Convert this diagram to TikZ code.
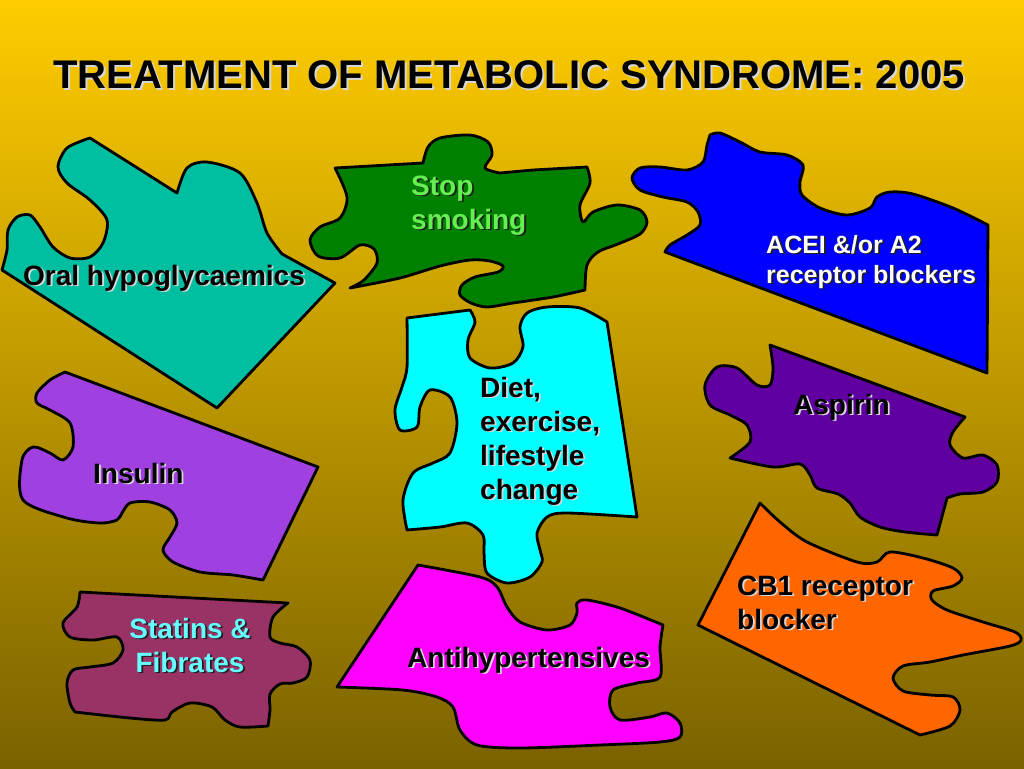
\documentclass[tikz,border=0pt]{standalone}
\usepackage{fontspec}
\setmainfont{Liberation Sans}
\usetikzlibrary{calc}
\definecolor{bgtop}{RGB}{255,204,0}
\definecolor{bgbot}{RGB}{122,98,0}
\definecolor{cteal}{RGB}{0,190,160}
\definecolor{cgreen}{RGB}{0,128,0}
\definecolor{cblue}{RGB}{0,0,255}
\definecolor{cviolet}{RGB}{160,64,224}
\definecolor{ccyan}{RGB}{0,255,255}
\definecolor{cpurple}{RGB}{96,0,160}
\definecolor{corange}{RGB}{255,102,0}
\definecolor{cmaroon}{RGB}{153,51,102}
\definecolor{cmagenta}{RGB}{255,0,255}
\definecolor{tgreen}{RGB}{100,240,80}
\definecolor{tcyan}{RGB}{102,255,255}
\definecolor{lshadow}{RGB}{215,215,215}
\definecolor{dshadow}{RGB}{30,30,30}
\newcommand{\shlabel}[7][]{%
  \node[lbl,#1,anchor=#4,text=#6] (#2s) at ($(#3)+(1.8,1.8)$) {#7};
  \node[lbl,#1,anchor=#4,text=#5] (#2) at (#3) {#7};}
\begin{document}
\begin{tikzpicture}[x=1pt,y=-1pt,
  piece/.style={draw=black,line width=2.8pt,line join=round},
  lbl/.style={inner sep=0pt,align=left,font=\fontsize{28}{34}\selectfont\bfseries},
  ttl/.style={inner sep=0pt,font=\fontsize{40}{44}\selectfont\bfseries}]
\useasboundingbox (0,0) rectangle (1024,768);
\shade[top color=bgtop,bottom color=bgbot] (0,0) rectangle (1024,768);

% Oral hypoglycaemics (teal)
\filldraw[piece,fill=cteal] (90,138) -- (177,193)
  -- plot[smooth] coordinates {(177,193) (187,168) (207,162) (240,173) (257,203) (267,233) (282,254)}
  -- (335,283) -- (217,408) -- (2,270)
  -- plot[smooth] coordinates {(2,270) (7,250) (8,230) (17,217) (30,215) (40,227) (53,247) (70,258) (90,257) (103,243) (107,220) (90,200) (67,183) (58,167) (67,148) (90,138)}
  -- cycle;

% Stop smoking (green)
\filldraw[piece,fill=cgreen] (335,168) -- (423,163)
  -- plot[smooth] coordinates {(423,163) (428,147) (440,138) (470,135) (488,142) (492,155) (485,168) (500,173)}
  -- (533,170) -- (587,167)
  -- plot[smooth] coordinates {(587,167) (590,183) (580,205) (583,222) (593,212) (617,205) (640,210) (647,222) (640,234) (618,244) (598,252) (587,265) (585,290)}
  -- plot[smooth] coordinates {(585,290) (553,297) (513,303) (487,307) (471,303) (460,295) (462,285) (475,277) (498,272) (503,266) (490,261) (470,260) (440,266) (400,278) (350,288)}
  -- plot[smooth] coordinates {(350,288) (364,280) (377,263) (374,249) (360,245) (340,258) (318,256) (310,240) (320,227) (340,218) (347,197) (335,168)}
  -- cycle;

% ACEI (blue)
\filldraw[piece,fill=cblue] (710,135)
  -- plot[smooth] coordinates {(710,135) (720,133) (740,142) (760,152) (787,155) (803,165) (800,182) (802,195) (820,208) (847,215) (870,208) (877,197) (890,192) (913,194) (953,208) (988,225)}
  -- (987,373) -- (665,252)
  -- plot[smooth] coordinates {(665,252) (670,245) (687,235) (700,225) (698,212) (687,202) (663,197) (640,190) (632,178) (640,168) (660,167) (687,170) (703,162) (707,145) (710,135)}
  -- cycle;

% Insulin (violet)
\filldraw[piece,fill=cviolet] (65,372) -- (318,467) -- (263,580)
  -- plot[smooth] coordinates {(263,580) (233,575) (200,572) (173,562) (163,550) (170,537) (177,523) (170,510) (150,502) (130,503) (122,513) (117,520) (100,523) (67,518) (23,500) (22,460) (33,447) (50,453) (63,460) (73,447) (70,423) (50,410) (37,403) (37,393) (50,380) (65,372)}
  -- cycle;

% Diet (cyan)
\filldraw[piece,fill=ccyan] (407,318) -- (470,310)
  -- plot[smooth] coordinates {(470,310) (475,322) (468,340) (470,358) (490,368) (513,363) (523,347) (520,327) (527,313) (547,307) (580,308) (607,322)}
  -- (637,517)
  -- plot[smooth] coordinates {(637,517) (567,513) (547,517) (537,533) (540,550) (542,562) (530,577) (507,583) (487,573) (484,553) (483,535) (467,523) (440,527) (407,530)}
  -- plot[smooth] coordinates {(407,530) (403,500) (413,473) (433,463) (450,453) (457,423) (450,397) (430,390) (420,407) (417,427) (400,430) (395,410) (402,387) (407,367) (407,318)}
  -- cycle;

% Aspirin (purple)
\filldraw[piece,fill=cpurple] (770,345) -- (965,417)
  -- plot[smooth] coordinates {(965,417) (953,432) (950,445) (963,458) (983,455) (997,465) (997,482) (983,492) (960,494) (947,498)}
  -- (937,535)
  -- plot[smooth] coordinates {(937,535) (905,532) (880,527) (860,517) (850,503) (838,494) (817,488) (810,475) (800,464) (773,467) (730,458)}
  -- plot[smooth] coordinates {(730,458) (750,442) (747,425) (730,415) (710,405) (705,385) (717,367) (737,368) (757,385) (770,385) (773,368) (770,345)}
  -- cycle;

% CB1 (orange)
\filldraw[piece,fill=corange] (760,503)
  -- plot[smooth] coordinates {(760,503) (780,522) (807,542) (857,562) (877,562) (890,552) (923,558) (953,568) (962,578) (953,586) (933,591) (932,600) (947,610) (983,622) (1015,632) (1021,640) (1010,646) (963,655) (930,662) (903,666) (893,678) (903,691) (930,695) (953,697) (960,710) (950,726) (920,735)}
  -- (698,625) -- cycle;

% Statins (maroon)
\filldraw[piece,fill=cmaroon] (80,592) -- (288,603)
  -- plot[smooth] coordinates {(288,603) (273,617) (270,637) (280,643) (297,647) (310,660) (307,677) (293,683) (280,684) (270,694) (270,710) (268,726)}
  -- plot[smooth] coordinates {(268,726) (240,727) (225,720) (212,707) (190,703) (172,712) (165,720) (130,718) (75,712)}
  -- plot[smooth] coordinates {(75,712) (70,703) (67,683) (73,670) (90,667) (113,663) (123,650) (117,637) (93,640) (70,637) (63,623) (77,607) (80,592)}
  -- cycle;

% Antihypertensives (magenta)
\filldraw[piece,fill=cmagenta] (418,565)
  -- plot[smooth] coordinates {(418,565) (480,577) (497,587) (507,607) (520,622) (547,630) (570,625) (577,613) (577,603) (587,600) (620,608) (663,625)}
  -- plot[smooth] coordinates {(663,625) (660,647) (660,677) (637,683) (613,690) (610,707) (620,720) (650,717) (667,713) (680,723) (680,737) (660,742) (600,745) (520,748) (477,745) (460,730) (453,707) (437,697) (403,690) (337,687)}
  -- cycle;

% Title
\node[ttl,anchor=base,text=lshadow] (titles) at (511,90) {TREATMENT OF METABOLIC SYNDROME: 2005};
\node[ttl,anchor=base,text=black] (title) at (509,88) {TREATMENT OF METABOLIC SYNDROME: 2005};

% Labels (base anchor = baseline of last line)
\shlabel{oral}{23,285}{base west}{black}{lshadow}{Oral hypoglycaemics}
\shlabel{stop}{411,229}{base west}{tgreen}{dshadow}{Stop\\smoking}
\shlabel[font=\fontsize{25}{30}\selectfont\bfseries]{acei}{766,283}{base west}{white}{dshadow}{ACEI \&/or A2\\receptor blockers}
\shlabel{insulin}{93,483}{base west}{black}{lshadow}{Insulin}
\shlabel{diet}{480,499}{base west}{black}{lshadow}{Diet,\\exercise,\\lifestyle\\change}
\shlabel{aspirin}{793,414}{base west}{black}{lshadow}{Aspirin}
\shlabel[align=center]{statins}{190,672}{base}{tcyan}{dshadow}{Statins \&\\Fibrates}
\shlabel{anti}{407,667}{base west}{black}{lshadow}{Antihypertensives}
\shlabel{cb1}{737,629}{base west}{black}{lshadow}{CB1 receptor\\blocker}
\end{tikzpicture}
\end{document}
